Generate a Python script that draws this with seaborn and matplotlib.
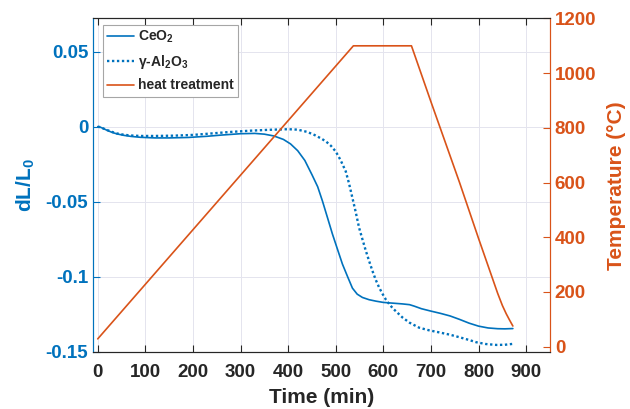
import numpy as np
import pandas as pd
import matplotlib
matplotlib.use("Agg")
import matplotlib.pyplot as plt
import seaborn as sns

# ---- data ----
time_ceo2 = [0, 5, 10, 20, 30, 40, 55, 70, 90, 120, 150, 190, 230, 260, 300, 330, 350, 370,
             390, 405, 420, 435, 450, 462, 472, 483, 493, 504, 514, 525, 535, 545, 556, 570,
             585, 600, 620, 640, 655, 665, 680, 700, 720, 740, 760, 780, 800, 820, 840, 855, 872]
dl_ceo2 = [0, -0.0003, -0.001, -0.0025, -0.0038, -0.0048, -0.0058, -0.0065, -0.0071, -0.0075,
           -0.0075, -0.0072, -0.0064, -0.0056, -0.0047, -0.0045, -0.0050, -0.0062, -0.0085,
           -0.0115, -0.016, -0.0225, -0.032, -0.040, -0.0495, -0.061, -0.0715, -0.082, -0.0915,
           -0.100, -0.1075, -0.1115, -0.1137, -0.1152, -0.1162, -0.1170, -0.1175, -0.1180,
           -0.1185, -0.1195, -0.1212, -0.1228, -0.1243, -0.126, -0.1283, -0.1308, -0.1328,
           -0.1340, -0.1345, -0.1346, -0.1344]

time_al2o3 = [0, 5, 10, 20, 30, 40, 55, 70, 90, 120, 160, 200, 240, 280, 320, 360, 400, 420,
              440, 455, 470, 480, 490, 500, 510, 521, 528, 535, 542, 549, 556, 563, 570, 577,
              584, 591, 598, 605, 612, 620, 630, 640, 655, 675, 695, 718, 740, 760, 780, 795,
              815, 837, 855, 872]
dl_al2o3 = [0, -0.0003, -0.001, -0.0023, -0.0035, -0.0045, -0.0054, -0.0059, -0.0062, -0.0062,
            -0.0060, -0.0055, -0.0045, -0.0035, -0.0027, -0.0021, -0.0017, -0.0020, -0.0035,
            -0.0055, -0.0080, -0.0100, -0.0128, -0.0166, -0.0222, -0.0298, -0.038, -0.0475,
            -0.057, -0.0673, -0.0750, -0.0825, -0.0894, -0.0960, -0.1020, -0.1070, -0.1112,
            -0.1150, -0.1180, -0.1210, -0.1240, -0.1270, -0.1305, -0.1338, -0.1355, -0.1370,
            -0.1385, -0.1402, -0.1420, -0.1435, -0.1447, -0.1453, -0.1452, -0.1446]

time_heat = [0, 537, 659, 700, 760, 800, 840, 850, 858, 865, 872]
temp_heat = [28, 1100, 1100, 895, 600, 395, 195, 150, 120, 97, 75]

x_ticks = [0, 100, 200, 300, 400, 500, 600, 700, 800, 900]
left_ticks = [-0.15, -0.1, -0.05, 0, 0.05]
left_ticklabels = ['-0.15', '-0.1', '-0.05', '0', '0.05']
right_ticks = [0, 200, 400, 600, 800, 1000, 1200]

BLUE = '#0072BD'
ORANGE = '#D95319'
DARK = '#262626'

sns.set_style("ticks")
plt.rcParams['font.family'] = ['Liberation Sans', 'DejaVu Sans']
plt.rcParams['font.weight'] = 'bold'
plt.rcParams['mathtext.fontset'] = 'custom'
plt.rcParams['mathtext.rm'] = 'Liberation Sans:bold'
plt.rcParams['mathtext.it'] = 'Liberation Sans:bold'
plt.rcParams['mathtext.bf'] = 'Liberation Sans:bold'
plt.rcParams['xtick.direction'] = 'in'
plt.rcParams['ytick.direction'] = 'in'

fig = plt.figure(figsize=(6.3, 4.09), dpi=100)
ax = fig.add_axes([0.1476, 0.1394, 0.7254, 0.8154])
ax2 = ax.twinx()

df_ceo2 = pd.DataFrame({'t': time_ceo2, 'dl': dl_ceo2})
df_al = pd.DataFrame({'t': time_al2o3, 'dl': dl_al2o3})
df_heat = pd.DataFrame({'t': time_heat, 'T': temp_heat})

sns.lineplot(data=df_ceo2, x='t', y='dl', ax=ax, color=BLUE, lw=1.2, sort=False,
             label=r'CeO$_2$', legend=False)
sns.lineplot(data=df_al, x='t', y='dl', ax=ax, color=BLUE, lw=1.7, sort=False,
             label=r'γ-Al$_2$O$_3$', legend=False, dashes=False)
ax.lines[-1].set_linestyle((0, (1, 1.1)))
sns.lineplot(data=df_heat, x='t', y='T', ax=ax2, color=ORANGE, lw=1.2, sort=False,
             label='heat treatment', legend=False)

ax.set_xlim(-10, 950)
ax.set_ylim(-0.15, 0.072)
ax2.set_ylim(-20, 1200)

ax.set_xticks(x_ticks)
ax.set_yticks(left_ticks)
ax.set_yticklabels(left_ticklabels)
ax2.set_yticks(right_ticks)

ax.grid(True, color='#e4e4ee', lw=0.7)
ax.set_axisbelow(True)

ax.tick_params(axis='x', colors=DARK, labelsize=13.5, length=5, width=0.8, top=True, pad=8.5)
ax.tick_params(axis='y', colors=BLUE, labelsize=13.5, length=5, width=0.8)
ax2.tick_params(axis='y', colors=ORANGE, labelsize=13.5, length=5, width=0.8)
for lab in ax.get_xticklabels() + ax.get_yticklabels() + ax2.get_yticklabels():
    lab.set_fontweight('bold')

ax.set_xlabel('Time (min)', fontsize=15, fontweight='bold', color=DARK, labelpad=5.5)
ax.set_ylabel(r'dL/L$_0$', fontsize=15, fontweight='bold', color=BLUE, labelpad=6)
ax2.set_ylabel('Temperature (°C)', fontsize=15, fontweight='bold', color=ORANGE, labelpad=8)

for a in (ax, ax2):
    for s in a.spines.values():
        s.set_linewidth(0.8)
ax.spines['bottom'].set_color(DARK)
ax.spines['top'].set_color(DARK)
ax2.spines['top'].set_color(DARK)
ax2.spines['bottom'].set_color(DARK)
ax.spines['left'].set_color(BLUE)
ax2.spines['left'].set_color(BLUE)
ax2.spines['right'].set_color(ORANGE)
ax.spines['right'].set_color(ORANGE)

handles = ax.get_lines()[:2] + ax2.get_lines()[:1]
labels = [r'CeO$_2$', r'γ-Al$_2$O$_3$', 'heat treatment']
leg = ax2.legend(handles, labels, loc='upper left', bbox_to_anchor=(0.016, 0.99),
                 prop={'weight': 'bold', 'size': 10}, frameon=True, fancybox=False,
                 edgecolor='#a6a6a6', framealpha=1, handlelength=1.9, labelspacing=0.55,
                 borderpad=0.3, handletextpad=0.3, borderaxespad=0.2)
leg.get_frame().set_linewidth(0.8)

fig.savefig('out.png', dpi=100)
